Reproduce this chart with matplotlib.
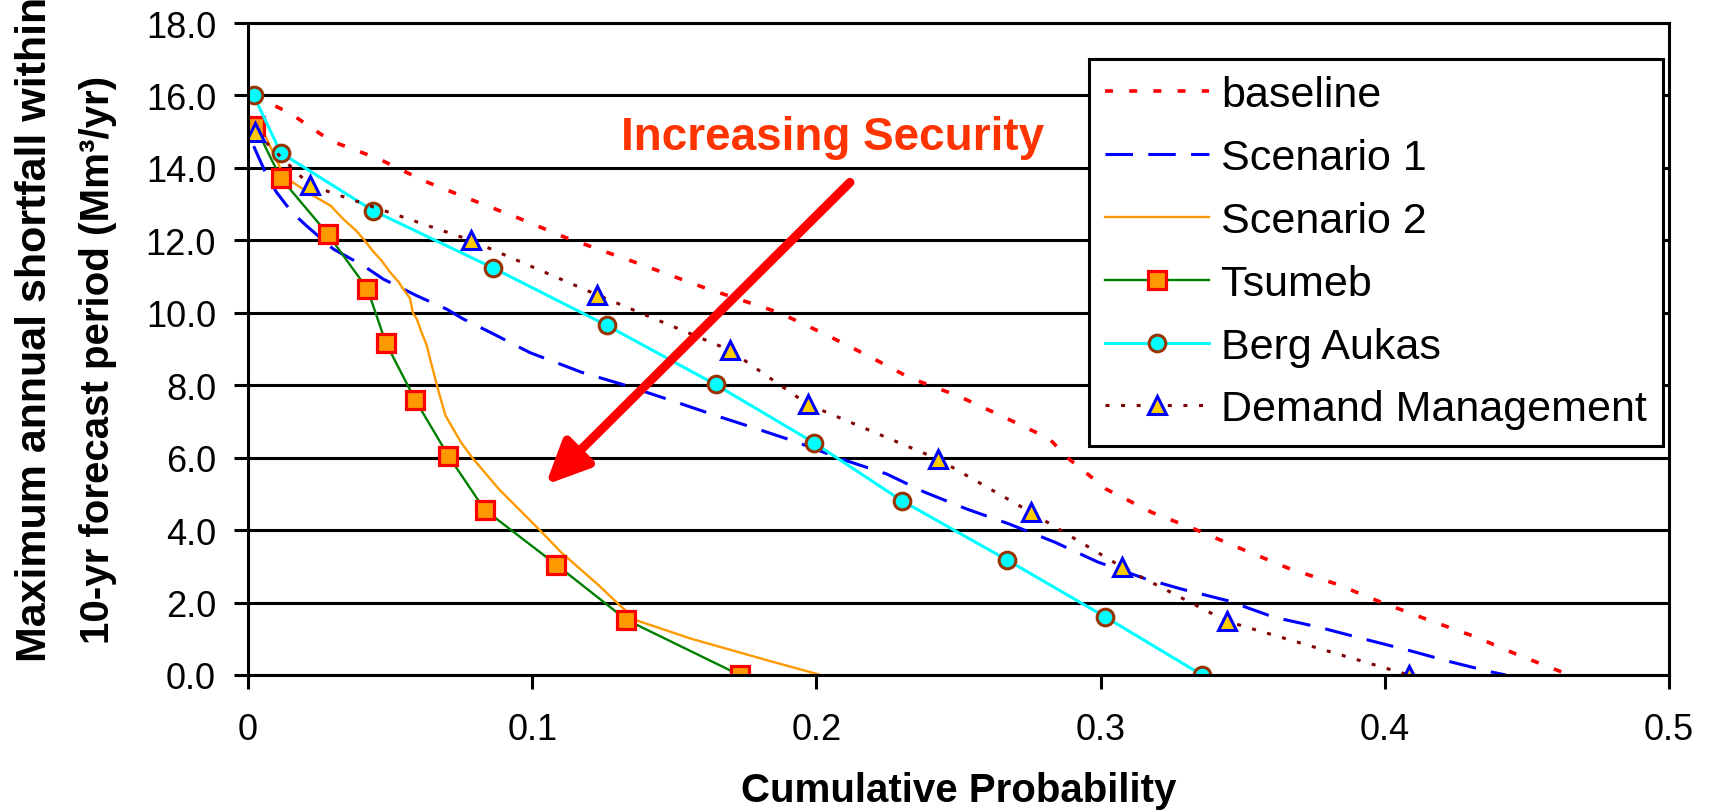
import matplotlib
matplotlib.use("Agg")
import matplotlib.pyplot as plt

plt.rcParams["font.family"] = ["Liberation Sans", "DejaVu Sans"]

# values
baseline_x = [0.002, 0.015, 0.029, 0.046, 0.062, 0.078, 0.095, 0.111, 0.127, 0.136,
              0.161, 0.187, 0.203, 0.218, 0.233, 0.250, 0.266, 0.282, 0.288, 0.302,
              0.318, 0.333, 0.349, 0.366, 0.383, 0.399, 0.415, 0.432, 0.447, 0.465]
baseline_y = [16.0, 15.5, 14.75, 14.25, 13.64, 13.14, 12.62, 12.1, 11.65, 11.4,
              10.68, 10.0, 9.41, 8.82, 8.2, 7.7, 7.12, 6.52, 6.02, 5.13,
              4.49, 4.03, 3.5, 2.95, 2.51, 2.0, 1.53, 1.05, 0.55, 0.0]

scen1_x = [0.002, 0.0066, 0.010, 0.0154, 0.0206, 0.030, 0.0406, 0.0476, 0.0594, 0.0699,
           0.0757, 0.085, 0.0992, 0.1173, 0.1331, 0.1489, 0.1647, 0.1789, 0.1931, 0.2089,
           0.2247, 0.238, 0.253, 0.2678, 0.2838, 0.299, 0.316, 0.3286, 0.3448, 0.3608,
           0.3768, 0.3929, 0.4089, 0.4233, 0.4377, 0.4426]
scen1_y = [14.6, 13.79, 13.33, 12.78, 12.4, 11.76, 11.3, 10.93, 10.47, 10.1,
           9.83, 9.47, 8.9, 8.36, 7.99, 7.58, 7.16, 6.8, 6.43, 5.96,
           5.55, 5.05, 4.58, 4.17, 3.67, 3.12, 2.65, 2.37, 2.05, 1.6,
           1.32, 0.99, 0.67, 0.36, 0.08, 0.0]

scen2_x = [0.003, 0.006, 0.0115, 0.0148, 0.023, 0.029, 0.0335, 0.038, 0.041, 0.044,
           0.047, 0.050, 0.053, 0.0546, 0.057, 0.058, 0.0594, 0.061, 0.0629, 0.064,
           0.0668, 0.0695, 0.0749, 0.0789, 0.0883, 0.1033, 0.110, 0.1235, 0.131, 0.137,
           0.156, 0.183, 0.2015]
scen2_y = [15.2, 14.9, 13.97, 13.65, 13.23, 12.96, 12.59, 12.27, 12.0, 11.7,
           11.44, 11.12, 10.85, 10.66, 10.4, 10.0, 9.83, 9.47, 9.1, 8.75,
           7.9, 7.16, 6.43, 6.0, 5.13, 3.95, 3.4, 2.47, 1.91, 1.5,
           1.0, 0.4, 0.0]

tsumeb_x = [0.0025, 0.0115, 0.028, 0.042, 0.0485, 0.0588, 0.0705, 0.0833, 0.1084, 0.133, 0.173]
tsumeb_y = [15.15, 13.72, 12.18, 10.66, 9.17, 7.6, 6.05, 4.56, 3.05, 1.53, 0.0]

berg_x = [0.002, 0.0115, 0.044, 0.0862, 0.1263, 0.1645, 0.1992, 0.2301, 0.267, 0.3015, 0.3357]
berg_y = [16.0, 14.42, 12.82, 11.24, 9.65, 8.02, 6.41, 4.81, 3.18, 1.61, 0.0]

demand_x = [0.0025, 0.0218, 0.0784, 0.1227, 0.1695, 0.197, 0.2428, 0.2755, 0.3075, 0.3445, 0.4085]
demand_y = [15.0, 13.52, 12.0, 10.5, 8.97, 7.47, 5.96, 4.49, 2.98, 1.48, 0.0]

y_ticks = [0, 2, 4, 6, 8, 10, 12, 14, 16, 18]
x_ticks = [0, 0.1, 0.2, 0.3, 0.4, 0.5]
x_tick_labels = ["0", "0.1", "0.2", "0.3", "0.4", "0.5"]

W, H = 1711, 812
fig = plt.figure(figsize=(W / 100, H / 100), dpi=100)
ax = fig.add_axes([248 / W, 1 - 676 / H, (1669 - 248) / W, (676 - 24) / H])

ax.plot(baseline_x, baseline_y, color="#FF0000", lw=2.6, dashes=(2.2, 4.5), label="baseline")
ax.plot(scen1_x, scen1_y, color="#0000FF", lw=2.2, dashes=(9, 5), label="Scenario 1")
ax.plot(scen2_x, scen2_y, color="#FF9900", lw=1.7, label="Scenario 2")
ax.plot(tsumeb_x, tsumeb_y, color="#008000", lw=1.7, marker="s", ms=13,
        mfc="#FF9900", mec="#FF0000", mew=2.3, label="Tsumeb")
ax.plot(berg_x, berg_y, color="#00FFFF", lw=2.2, marker="o", ms=12,
        mfc="#00FFFF", mec="#993300", mew=2.2, label="Berg Aukas")
ax.plot(demand_x, demand_y, color="#800000", lw=2.2, dashes=(1.3, 3.8), marker="^", ms=13,
        mfc="#FFCC00", mec="#0000FF", mew=2.2, label="Demand Management")

ax.set_xlim(0, 0.5)
ax.set_ylim(0, 18)
ax.set_yticks(y_ticks)
ax.set_yticklabels([f"{v:.1f}" for v in y_ticks])
ax.set_xticks(x_ticks)
ax.set_xticklabels(x_tick_labels)
ax.tick_params(axis="both", direction="out", length=10, width=2.2, color="black",
               labelsize=26)
ax.tick_params(axis="y", pad=13)
ax.tick_params(axis="x", pad=17)
ax.yaxis.grid(True, color="black", lw=2.2)
ax.set_axisbelow(True)
for sp in ax.spines.values():
    sp.set_color("black")
    sp.set_linewidth(2.2)

# arrow + note
ax.annotate("", xy=(0.1047, 5.25), xytext=(0.2118, 13.6),
            arrowprops=dict(arrowstyle="-|>,head_length=1.3,head_width=0.6",
                            color="#FF0000", lw=6.5, mutation_scale=20,
                            shrinkA=0, shrinkB=0))
ax.text(0.2058, 14.52, "Increasing Security", color="#FF3300", fontsize=33,
        fontweight="bold", ha="center", va="baseline")

leg = ax.legend(loc="upper left", bbox_to_anchor=(1089 / W, 1 - 60 / H),
                bbox_transform=fig.transFigure, borderaxespad=0, fontsize=31,
                handlelength=2.4, handletextpad=0.28, borderpad=0.38,
                labelspacing=0.53, numpoints=1, fancybox=False, framealpha=1)
leg.get_frame().set_edgecolor("black")
leg.get_frame().set_linewidth(2.2)

# axis titles
fig.text(958.5 / W, 1 - 802 / H, "Cumulative Probability", fontsize=29,
         fontweight="bold", ha="center", va="baseline")
fig.text(35 / W, 1 - 662 / H, "Maximum annual shortfall within", fontsize=31,
         fontweight="bold", rotation=90, ha="center", va="bottom")
fig.text(98 / W, 1 - 644 / H, "10-yr forecast period (Mm³/yr)", fontsize=29,
         fontweight="bold", rotation=90, ha="center", va="bottom")

fig.savefig("out.png", dpi=100)
